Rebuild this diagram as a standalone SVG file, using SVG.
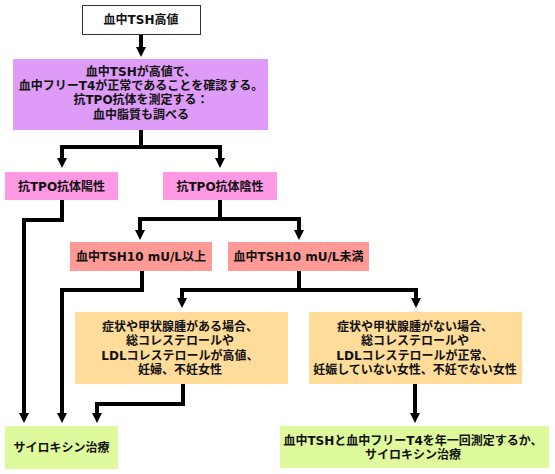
<svg xmlns="http://www.w3.org/2000/svg" width="555" height="474" viewBox="0 0 555 474">
<defs>
<style>
text{font-family:"DejaVu Sans","Noto Sans CJK JP",sans-serif;font-size:12px;font-weight:bold;fill:#111;text-anchor:middle}
.c{fill:none;stroke:#000;stroke-width:4;stroke-linejoin:miter;stroke-linecap:butt}
.purple{fill:#DE9CF8}
.pink{fill:#FF99E6}
.salmon{fill:#FF9A96}
.orange{fill:#FFDC99}
.green{fill:#DEFA9C}
</style>
<marker id="ah" markerUnits="userSpaceOnUse" markerWidth="10" markerHeight="10" viewBox="0 0 10 10" refX="0" refY="5" orient="auto">
<path d="M0,0 L10,5 L0,10 z" fill="#000"/>
</marker>
</defs>
<rect width="555" height="474" fill="#fff"/>
<g id="connectors">
<path class="c" d="M141,34 V47" marker-end="url(#ah)"/>
<path class="c" d="M141,130 V147"/>
<path class="c" d="M62,147 H220"/>
<path class="c" d="M62,145 V158" marker-end="url(#ah)"/>
<path class="c" d="M220,145 V158" marker-end="url(#ah)"/>
<path class="c" d="M62,200 V220 H24 V413" marker-end="url(#ah)"/>
<path class="c" d="M220,200 V219"/>
<path class="c" d="M140,219 H299"/>
<path class="c" d="M140,217 V230" marker-end="url(#ah)"/>
<path class="c" d="M299,217 V230" marker-end="url(#ah)"/>
<path class="c" d="M142,271 V290 H62 V413" marker-end="url(#ah)"/>
<path class="c" d="M299,271 V290"/>
<path class="c" d="M182,290 H416"/>
<path class="c" d="M182,288 V298" marker-end="url(#ah)"/>
<path class="c" d="M416,288 V298" marker-end="url(#ah)"/>
<path class="c" d="M183,384 V404 H97 V413" marker-end="url(#ah)"/>
<path class="c" d="M415,384 V413" marker-end="url(#ah)"/>
</g>
<g id="n1">
<rect x="82.5" y="5.5" width="118" height="29" fill="#fff" stroke="#333" stroke-width="1"/>
<text x="141" y="24">血中TSH高値</text>
</g>
<g id="n2">
<rect class="purple" x="13" y="59" width="255" height="71"/>
<text x="141" y="76">血中TSHが高値で、</text>
<text x="141" y="90">血中フリーT4が正常であることを確認する。</text>
<text x="141" y="104">抗TPO抗体を測定する：</text>
<text x="141" y="119">血中脂質も調べる</text>
</g>
<g id="n3">
<rect class="pink" x="5" y="172" width="113" height="28"/>
<text x="61.5" y="191">抗TPO抗体陽性</text>
</g>
<g id="n4">
<rect class="pink" x="163" y="172" width="114" height="28"/>
<text x="220" y="191">抗TPO抗体陰性</text>
</g>
<g id="n5">
<rect class="salmon" x="70" y="242" width="142" height="29"/>
<text x="141" y="261">血中TSH10 mU/L以上</text>
</g>
<g id="n6">
<rect class="salmon" x="228" y="242" width="141" height="29"/>
<text x="298.5" y="261">血中TSH10 mU/L未満</text>
</g>
<g id="n7">
<rect class="orange" x="75" y="312" width="213" height="72"/>
<text x="180" y="331">症状や甲状腺腫がある場合、</text>
<text x="180" y="345">総コレステロールや</text>
<text x="180" y="360">LDLコレステロールが高値、</text>
<text x="180" y="374">妊婦、不妊女性</text>
</g>
<g id="n8">
<rect class="orange" x="309" y="312" width="213" height="72"/>
<text x="415" y="331">症状や甲状腺腫がない場合、</text>
<text x="415" y="345">総コレステロールや</text>
<text x="415" y="360">LDLコレステロールが正常、</text>
<text x="415" y="374">妊娠していない女性、不妊でない女性</text>
</g>
<g id="n9">
<rect class="green" x="5" y="426" width="113" height="43"/>
<text x="61.5" y="452">サイロキシン治療</text>
</g>
<g id="n10">
<rect class="green" x="280" y="426" width="269" height="42"/>
<text x="413" y="445">血中TSHと血中フリーT4を年一回測定するか、</text>
<text x="413" y="459">サイロキシン治療</text>
</g>
</svg>
